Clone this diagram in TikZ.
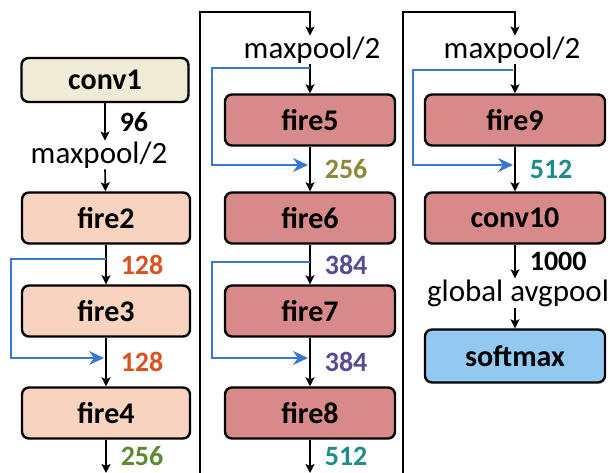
\documentclass[tikz,border=0pt]{standalone}
\usepackage{fontspec}
\setmainfont{Carlito}
\usetikzlibrary{arrows.meta}
\definecolor{cvone}{HTML}{EFEBD6}
\definecolor{fsm}{HTML}{F8D4C0}
\definecolor{fbig}{HTML}{D88A8B}
\definecolor{smax}{HTML}{93C9F1}
\definecolor{byblue}{HTML}{3A76D4}
\definecolor{nred}{HTML}{D7521F}
\definecolor{ngreen}{HTML}{5C8A30}
\definecolor{nolive}{HTML}{8C8A3A}
\definecolor{npurple}{HTML}{5A4A94}
\definecolor{nteal}{HTML}{1E8C8C}

\begin{document}
\begin{tikzpicture}[x=1pt,y=-1pt,>={Stealth[length=9pt,width=9pt,inset=2pt]},
    blk/.style={draw,line width=2.4pt,rounded corners=7pt,minimum height=51pt,
      inner sep=0pt,font=\bfseries\fontsize{30}{32}\selectfont},
    txt/.style={inner sep=1pt,font=\fontsize{31}{33}\selectfont},
    num/.style={right,xshift=13pt,inner sep=1pt,font=\bfseries\fontsize{28}{29}\selectfont},
    arr/.style={->,line width=1.6pt},
    byp/.style={-{Stealth[length=15pt,width=14pt,inset=5pt]},line width=1.6pt,draw=byblue},
    sep/.style={line width=1.6pt}]
  \useasboundingbox (0,0) rectangle (610,473);
  \node[blk,fill=cvone,minimum width=167pt,minimum height=44pt] (conv1) at (105,80) {conv1};
  \node[txt] (mp1) at (99,155) {maxpool/2};
  \node[blk,fill=fsm,minimum width=168pt] (fire2) at (106,218) {fire2};
  \node[blk,fill=fsm,minimum width=168pt] (fire3) at (106,311) {fire3};
  \node[blk,fill=fsm,minimum width=168pt] (fire4) at (106,413) {fire4};

  \node[txt] (mp2) at (312,50) {maxpool/2};
  \node[blk,fill=fbig,minimum width=170pt] (fire5) at (310,120) {fire5};
  \node[blk,fill=fbig,minimum width=170pt] (fire6) at (310,218) {fire6};
  \node[blk,fill=fbig,minimum width=170pt] (fire7) at (310,311) {fire7};
  \node[blk,fill=fbig,minimum width=170pt] (fire8) at (310,413) {fire8};

  \node[txt] (mp3) at (512,50) {maxpool/2};
  \node[blk,fill=fbig,minimum width=180pt] (fire9) at (515,120) {fire9};
  \node[blk,fill=fbig,minimum width=180pt] (conv10) at (515,218) {conv10};
  \node[txt] (gap) at (518,293) {global avgpool};
  \node[blk,fill=smax,minimum width=180pt,minimum height=53pt] (softmax) at (515,356) {softmax};

  \coordinate (out1) at (106,473);
  \coordinate (up1) at (200,473);
  \coordinate (out2) at (310,473);
  \coordinate (up2) at (403,473);

  \draw[arr] (conv1) -- (conv1 |- mp1.north) node[num,midway] {96};
  \draw[arr] (mp1.south -| conv1) -- (fire2);
  \draw[arr] (fire2) -- (fire3) node[num,midway,text=nred] {128};
  \draw[arr] (fire3) -- (fire4) node[num,midway,text=nred] {128};
  \draw[arr] (fire4) -- (out1) node[num,midway,text=ngreen] {256};
  \draw[byp] (106,259) -- ++(-95,0) |- (104,358);

  \draw[sep,->] (up1) -- (200,12) -| (mp2.north -| fire5);
  \draw[arr] (mp2.south -| fire5) -- (fire5);
  \draw[arr] (fire5) -- (fire6) node[num,midway,text=nolive] {256};
  \draw[arr] (fire6) -- (fire7) node[num,midway,text=npurple] {384};
  \draw[arr] (fire7) -- (fire8) node[num,midway,text=npurple] {384};
  \draw[arr] (fire8) -- (out2) node[num,midway,text=nteal] {512};
  \draw[byp] (310,68) -- ++(-98,0) |- (308,165);
  \draw[byp] (310,262) -- ++(-98,0) |- (308,358);

  \draw[sep,->] (up2) -- (403,12) -| (mp3.north -| fire9);
  \draw[arr] (mp3.south -| fire9) -- (fire9);
  \draw[arr] (fire9) -- (conv10) node[num,midway,text=nteal] {512};
  \draw[arr] (conv10) -- (conv10 |- gap.north) node[num,midway] {1000};
  \draw[arr] (gap.south -| conv10) -- (softmax);
  \draw[byp] (513,70) -- ++(-100,0) |- (513,165);
\end{tikzpicture}
\end{document}
